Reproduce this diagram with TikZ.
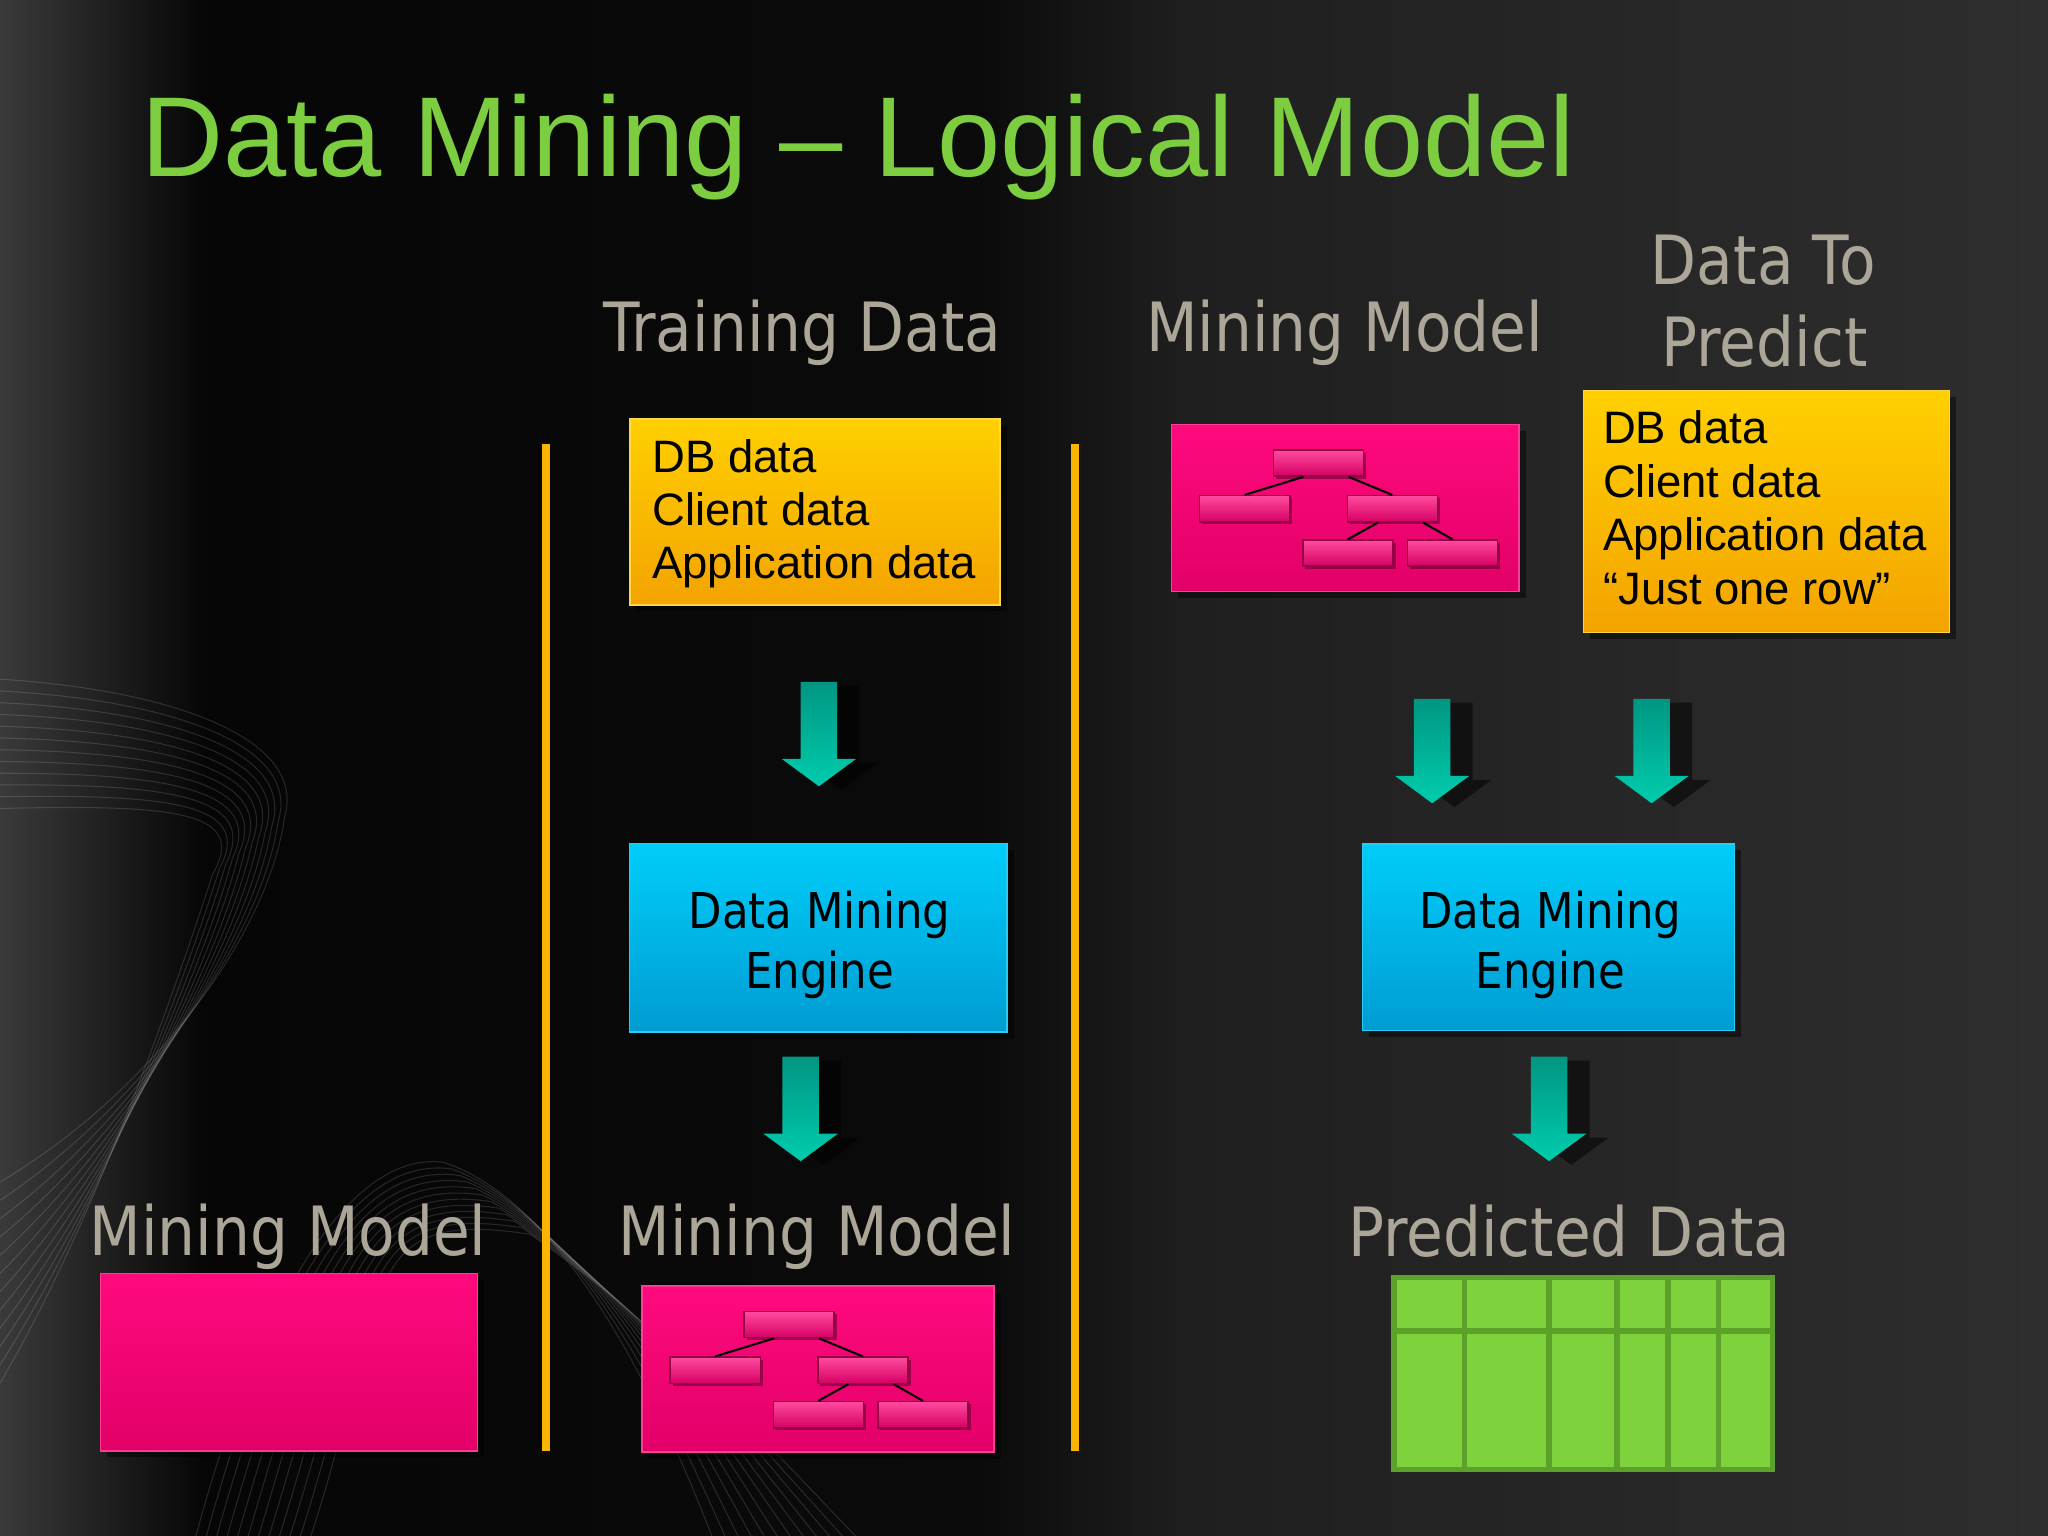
\documentclass[tikz,border=0pt]{standalone}
\usepackage{fontspec}
\setmainfont{Liberation Sans}
\newfontfamily\tah[FakeStretch=0.88]{DejaVu Sans}
\usetikzlibrary{shadows,calc}

\definecolor{bgA}{HTML}{3A3A3A}
\definecolor{bgB}{HTML}{060606}
\definecolor{bgC}{HTML}{0B0B0B}
\definecolor{bgD}{HTML}{1F1F1F}
\definecolor{bgE}{HTML}{2E2E2E}
\pgfdeclarehorizontalshading{bgsh}{100bp}{color(0bp)=(bgA); color(25bp)=(bgA); color(30bp)=(bgB); color(49bp)=(bgC); color(54bp)=(bgD); color(75bp)=(bgE); color(100bp)=(bgE)}

\definecolor{ttl}{RGB}{125,205,65}
\definecolor{lbl}{RGB}{172,166,152}
\definecolor{orT}{RGB}{255,208,0}
\definecolor{orB}{RGB}{243,163,0}
\definecolor{orE}{RGB}{255,215,70}
\definecolor{blT}{RGB}{0,205,250}
\definecolor{blB}{RGB}{0,156,210}
\definecolor{blE}{RGB}{40,205,245}
\definecolor{pkT}{RGB}{255,10,125}
\definecolor{pkB}{RGB}{226,0,104}
\definecolor{pkE}{RGB}{255,60,150}
\definecolor{lfT}{RGB}{255,75,158}
\definecolor{lfB}{RGB}{214,0,100}
\definecolor{lfE}{RGB}{150,0,70}
\definecolor{tlT}{RGB}{0,150,130}
\definecolor{tlB}{RGB}{0,204,172}
\definecolor{grF}{RGB}{126,210,60}
\definecolor{grL}{RGB}{92,162,42}
\definecolor{sep}{RGB}{250,180,0}

\tikzset{
  bx/.style={rectangle, inner sep=0pt, line width=0.6pt,
    drop shadow={shadow xshift=2.5pt, shadow yshift=-2.5pt, opacity=0.45, fill=black}},
  orangebox/.style={bx, top color=orT, bottom color=orB, draw=orE},
  bluebox/.style={bx, top color=blT, bottom color=blB, draw=blE},
  pinkbox/.style={bx, top color=pkT, bottom color=pkB, draw=pkE},
  leaf/.style={rectangle, inner sep=0pt, minimum width=34.5pt, minimum height=10pt,
    top color=lfT, bottom color=lfB, draw=lfE, line width=0.6pt,
    drop shadow={shadow xshift=1pt, shadow yshift=-1pt, opacity=0.35, fill=black}},
  treeline/.style={black, line width=0.8pt},
  sepline/.style={draw=sep, line width=3pt},
  gridl/.style={draw=grL, line width=2pt},
  predbox/.style={rectangle, inner sep=0pt, fill=grF, draw=grL, line width=2.2pt},
  lbltext/.style={text=lbl, font=\tah\fontsize{26pt}{31.5pt}\selectfont, inner sep=0pt, anchor=base},
  boxtext/.style={text=black, font=\fontsize{17.4pt}{20pt}\selectfont, inner sep=0pt, anchor=base west},
  engtext/.style={text=black, font=\tah\fontsize{18.9pt}{23pt}\selectfont, inner sep=0pt, anchor=base},
  swirl/.style={draw=white, opacity=0.13, line width=0.4pt},
  tree/.pic={
    \node[leaf] (-t) at (112.5,29.5) {};
    \node[leaf] (-l) at (56,64.5) {};
    \node[leaf] (-r) at (169,64.5) {};
    \node[leaf] (-bl) at (135,98.5) {};
    \node[leaf] (-br) at (215,98.5) {};
    \draw[treeline] ([xshift=-5.75pt]-t.south) -- (-l.north);
    \draw[treeline] ([xshift=11.5pt]-t.south) -- (-r.north);
    \draw[treeline] ([xshift=-5.5pt]-r.south) -- (-bl.north);
    \draw[treeline] ([xshift=11.75pt]-r.south) -- (-br.north);
  },
  barrow/.pic={
    \fill[black, opacity=0.5] (3,3) -- (31,3) -- (31,62) -- (45.5,62) -- (17,83) -- (-11.5,62) -- (3,62) -- cycle;
    \shade[top color=tlT, bottom color=tlB] (-14,0) -- (14,0) -- (14,59) -- (28.5,59) -- (0,80) -- (-28.5,59) -- (-14,59) -- cycle;
  }
}

\begin{document}
\begin{tikzpicture}[x=0.5pt, y=-0.5pt]
\useasboundingbox (0,0) rectangle (1568,1176);
\shade[shading=bgsh] (0,0) rectangle (1568,1176);

% decorative swirl lines
\begin{scope}
\clip (0,0) rectangle (1568,1176);
\foreach \i in {0,...,11}{
  \draw[swirl] (0,{520+9*\i}) .. controls (130,{528+8*\i}) and ({235-4*\i},{565+5*\i}) .. ({218-5*\i},{625+4*\i})
     .. controls ({205-6*\i},{720+2*\i}) and ({110-3*\i},{840+8*\i}) .. (0,{905+14*\i});
  \draw[swirl] ({150+8*\i},1176) .. controls ({200+9*\i},990) and (270,{880+4*\i}) .. ({340+6*\i},{890+5*\i})
     .. controls ({430+6*\i},{920+8*\i}) and ({500+4*\i},1060) .. ({545+10*\i},1176);
}
\end{scope}

% separators
\coordinate (s1a) at (418,340); \coordinate (s1b) at (418,1111);
\coordinate (s2a) at (823,340); \coordinate (s2b) at (823,1111);
\draw[sepline] (s1a) -- (s1b);
\draw[sepline] (s2a) -- (s2b);

% title
\node[anchor=base west, inner sep=0pt, text=ttl, font=\fontsize{43.5pt}{50pt}\selectfont] (title) at (108,135.3) {Data Mining – Logical Model};

% column labels
\node[lbltext] (lblTrain) at (614.3,268.8) {Training Data};
\node[lbltext] (lblModelTop) at (1029.5,268.8) {Mining Model};
\node[lbltext] (lblPredA) at (1350,217.5) {Data To};
\node[lbltext] (lblPredB) at (1351,280.7) {Predict};
\node[lbltext] (lblModelL) at (220.5,961) {Mining Model};
\node[lbltext] (lblModelM) at (625.5,961) {Mining Model};
\node[lbltext] (lblPredicted) at (1201.5,962) {Predicted Data};

% orange boxes
\node[orangebox, minimum width=141.7pt, minimum height=71pt] (train) at (624,392) {};
\node[boxtext] (trainA) at (499,361.9) {DB data};
\node[boxtext] (trainB) at (499,402) {Client data};
\node[boxtext] (trainC) at (499,442.8) {Application data};

\node[orangebox, minimum width=140pt, minimum height=92.5pt] (topred) at (1352.4,391.6) {};
\node[boxtext] (topredA) at (1227,339.5) {DB data};
\node[boxtext] (topredB) at (1227,380.8) {Client data};
\node[boxtext] (topredC) at (1227,421.6) {Application data};
\node[boxtext] (topredD) at (1227,462.5) {“Just one row”};

% pink boxes
\node[pinkbox, minimum width=133pt, minimum height=64pt] (mmTop) at (1030,389) {};
\pic (treeTop) at (897,325) {tree};
\node[pinkbox, minimum width=134.7pt, minimum height=63.5pt] (mmMid) at (626.3,1048.2) {};
\pic (treeMid) at (491.6,984.6) {tree};
\node[pinkbox, minimum width=144.4pt, minimum height=67.9pt] (mmLeft) at (221.3,1042.9) {};

% engines
\node[bluebox, minimum width=144.6pt, minimum height=72.2pt] (eng1) at (626.4,717.9) {};
\node[engtext] (eng1a) at (627.5,710.7) {Data Mining};
\node[engtext] (eng1b) at (627.5,757) {Engine};
\node[bluebox, minimum width=142.5pt, minimum height=71.5pt] (eng2) at (1185.5,717.5) {};
\node[engtext] (eng2a) at (1187,710.7) {Data Mining};
\node[engtext] (eng2b) at (1187,757) {Engine};

% predicted data table
\node[predbox, minimum width=145pt, minimum height=73.5pt] (tbl) at (1212,1051.5) {};
\foreach \gx in {1121,1186,1238,1277,1316}{
  \draw[gridl] (\gx,979) -- (\gx,1124);
}
\draw[gridl] (1068,1019) -- (1356,1019);

% block arrows
\pic (ar1) at (627,522) {barrow};
\pic (ar2) at (613,809) {barrow};
\pic (ar3) at (1096.5,535) {barrow};
\pic (ar4) at (1264.5,535) {barrow};
\pic (ar5) at (1186,809) {barrow};
\end{tikzpicture}
\end{document}
